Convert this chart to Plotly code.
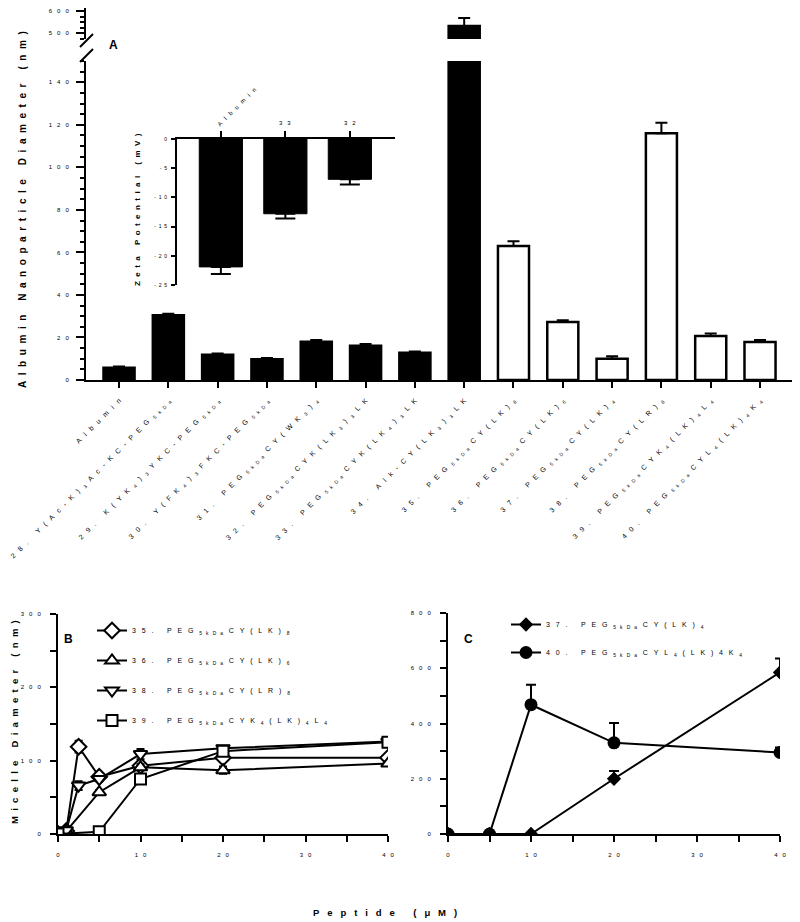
import plotly.graph_objects as go

FONT = "Liberation Sans, Arial, sans-serif"
NB = "\u00a0"
PAD = 8  # page body margin
W, H = 800 - PAD, 922 - PAD


def sp(s, gap=2):
    # letter-spaced text, "_{..}" marks a subscript run
    parts = []
    i = 0
    while i < len(s):
        if s.startswith("_{", i):
            j = s.index("}", i)
            parts.append("<sub>" + (NB * gap).join(s[i + 2:j]) + "</sub>")
            i = j + 1
        else:
            parts.append(NB if s[i] == " " else s[i])
            i += 1
    return (NB * gap).join(parts)


def fx(p):
    return min(1, max(0, (p - PAD) / W))


def fy(p):
    return min(1, max(0, 1 - (p - PAD) / H))


# ---- panel A: nanoparticle diameter ----
peptides = [
    "Albumin",
    "28. Y(Ac-K)_{3}Ac-KC-PEG_{5kDa}",
    "29. K(YK_{4})_{3}YKC-PEG_{5kDa}",
    "30. Y(FK_{4})_{3}FKC-PEG_{5kDa}",
    "31. PEG_{5kDa}CY(WK_{3})_{4}",
    "32. PEG_{5kDa}CYK(LK_{3})_{3}LK",
    "33. PEG_{5kDa}CYK(LK_{4})_{3}LK",
    "34. Alk-CY(LK_{3})_{3}LK",
    "35. PEG_{5kDa}CY(LK)_{8}",
    "36. PEG_{5kDa}CY(LK)_{6}",
    "37. PEG_{5kDa}CY(LK)_{4}",
    "38. PEG_{5kDa}CY(LR)_{8}",
    "39. PEG_{5kDa}CYK_{4}(LK)_{4}L_{4}",
    "40. PEG_{5kDa}CYL_{4}(LK)_{4}K_{4}",
]
diam = [5.8, 30.4, 11.9, 9.7, 18.0, 16.1, 12.8, 532, 63, 27.3, 10.0, 116, 20.7, 17.9]
diam_err = [0.6, 0.8, 0.6, 0.6, 0.8, 0.8, 0.6, 36, 2.3, 0.8, 1.2, 5, 1.2, 0.9]
solid = [True] * 8 + [False] * 6
a_low_ticks = [0, 20, 40, 60, 80, 100, 120, 140]
a_high_ticks = [500, 600]

# inset: zeta potential
zeta_labels = ["Albumin", "33", "32"]
zeta = [-21.9, -12.8, -6.9]
zeta_err = [1.2, 0.8, 0.9]
zeta_ticks = [0, -5, -10, -15, -20, -25]

# ---- panel B: micelle diameter ----
b_names = ["35. PEG_{5kDa}CY(LK)_{8}", "36. PEG_{5kDa}CY(LK)_{6}",
           "38. PEG_{5kDa}CY(LR)_{8}", "39. PEG_{5kDa}CYK_{4}(LK)_{4}L_{4}"]
b_x = [[0, 1, 2.5, 5, 10, 20, 40],
       [0, 1, 5, 10, 20, 40],
       [0, 1, 2.5, 5, 10, 20, 40],
       [0, 5, 10, 20, 40]]
b_y = [[0, 4, 119, 78, 93, 104, 104],
       [0, 4, 57, 91, 87, 96],
       [0, 5, 66, 75, 109, 117, 126],
       [0, 3, 75, 113, 125]]
b_err = [[0, 1, 8, 3, 4, 3, 3],
         [0, 1, 3, 4, 5, 3],
         [0, 1, 6, 3, 7, 3, 3],
         [0, 1, 4, 3, 3]]
b_symbols = ["diamond", "triangle-up", "triangle-down", "square"]
b_ticks = [0, 100, 200, 300]

# ---- panel C ----
c_names = ["37. PEG_{5kDa}CY(LK)_{4}", "40. PEG_{5kDa}CYL_{4}(LK)4K_{4}"]
c_x = [[0, 5, 10, 20, 40], [0, 5, 10, 20, 40]]
c_y = [[0, 0, 0, 200, 585], [0, 0, 468, 330, 295]]
c_err = [[0, 0, 0, 28, 50], [0, 0, 72, 72, 18]]
c_symbols = ["diamond", "circle"]
c_ticks = [0, 200, 400, 600, 800]

conc_ticks = [0, 5, 10, 15, 20, 25, 30, 35, 40]
conc_labels = ["0", "", "10", "", "20", "", "30", "", "40"]

fig = go.Figure()

cats = [sp(p, 3) for p in peptides]
bar_col = ["black" if s else "white" for s in solid]
for xa, ya in [("x", "y"), ("x2", "y2")]:
    fig.add_trace(go.Bar(
        x=cats, y=diam, xaxis=xa, yaxis=ya, width=0.63,
        marker=dict(color=bar_col, line=dict(color="black", width=2.5)),
        error_y=dict(type="data", array=diam_err, arrayminus=[0] * len(diam),
                     symmetric=False, color="black", thickness=2, width=6),
        showlegend=False))

fig.add_trace(go.Bar(
    x=zeta_labels, y=zeta, xaxis="x3", yaxis="y3", width=0.67,
    marker=dict(color="black", line=dict(color="black", width=1)),
    error_y=dict(type="data", array=[0] * 3, arrayminus=zeta_err, symmetric=False,
                 color="black", thickness=2, width=10),
    showlegend=False))

for i, name in enumerate(b_names):
    fig.add_trace(go.Scatter(
        x=b_x[i], y=b_y[i], xaxis="x4", yaxis="y4", mode="lines+markers",
        name=sp(name, 3), legend="legend", legendgroup=f"b{i}",
        line=dict(color="black", width=2),
        marker=dict(symbol=b_symbols[i], size=12 if i < 3 else 11, color="white",
                    line=dict(color="black", width=2)),
        error_y=dict(type="data", array=b_err[i], color="black", thickness=2, width=4)))

for i, name in enumerate(c_names):
    fig.add_trace(go.Scatter(
        x=c_x[i], y=c_y[i], xaxis="x5", yaxis="y5", mode="lines+markers",
        name=sp(name, 3), legend="legend2", legendgroup=f"c{i}",
        line=dict(color="black", width=2),
        marker=dict(symbol=c_symbols[i], size=11 if i == 0 else 13, color="black"),
        error_y=dict(type="data", array=c_err[i], arrayminus=[0] * len(c_err[i]),
                     symmetric=False, color="black", thickness=2, width=5)))

ax = dict(showline=True, linecolor="black", linewidth=2, ticks="outside",
          tickcolor="black", tickwidth=2, showgrid=False, zeroline=False,
          automargin=False, tickfont=dict(family=FONT, size=6, color="black"))
minor = dict(ticks="outside", tickcolor="black", tickwidth=2)

fig.update_layout(
    width=W, height=H, autosize=False,
    margin=dict(l=0, r=0, t=0, b=0),
    paper_bgcolor="white", plot_bgcolor="rgba(0,0,0,0)",
    font=dict(family=FONT, color="black"),
    barmode="overlay",
    xaxis=dict(ax, domain=[fx(86), fx(797)], anchor="y", type="category",
               range=[-0.67, 13.75], ticklen=6, tickangle=-45,
               ticklabelstandoff=6, tickfont=dict(family=FONT, size=7, color="black")),
    yaxis=dict(ax, domain=[fy(380), fy(61)], anchor="x", range=[0, 150],
               tickvals=a_low_ticks, ticktext=[sp(str(v), 3) for v in a_low_ticks],
               ticklen=8, ticklabelstandoff=6, minor=dict(minor, dtick=5, ticklen=4)),
    xaxis2=dict(domain=[fx(86), fx(797)], anchor="y2", type="category",
                range=[-0.67, 13.75], visible=False, automargin=False),
    yaxis2=dict(ax, domain=[fy(39), fy(8)], anchor="x2", range=[473, 614],
                tickvals=a_high_ticks, ticktext=[sp(str(v), 3) for v in a_high_ticks],
                ticklen=8, ticklabelstandoff=6, minor=dict(minor, dtick=25, ticklen=4)),
    xaxis3=dict(ax, domain=[fx(177), fx(395)], anchor="y3", side="top",
                type="category", range=[-0.68, 2.70], ticklen=6,
                showticklabels=False),
    yaxis3=dict(ax, domain=[fy(285), fy(139)], anchor="x3", range=[-25, 0],
                tickvals=zeta_ticks, ticktext=[sp(str(v), 2) for v in zeta_ticks],
                ticklen=4, ticklabelstandoff=3,
                tickfont=dict(family=FONT, size=5, color="black")),
    xaxis4=dict(ax, domain=[fx(58), fx(388)], anchor="y4", range=[0, 40],
                tickvals=conc_ticks, ticktext=[sp(t, 3) for t in conc_labels],
                ticklen=6, ticklabelstandoff=8),
    yaxis4=dict(ax, domain=[fy(834), fy(614)], anchor="x4", range=[0, 300],
                tickvals=b_ticks, ticktext=[sp(str(v), 3) for v in b_ticks],
                ticklen=6, ticklabelstandoff=8, minor=dict(minor, dtick=50, ticklen=6)),
    xaxis5=dict(ax, domain=[fx(448), fx(780)], anchor="y5", range=[0, 40],
                tickvals=conc_ticks, ticktext=[sp(t, 3) for t in conc_labels],
                ticklen=6, ticklabelstandoff=8),
    yaxis5=dict(ax, domain=[fy(834), fy(613)], anchor="x5", range=[0, 800],
                tickvals=c_ticks, ticktext=[sp(str(v), 3) for v in c_ticks],
                ticklen=6, ticklabelstandoff=8, minor=dict(minor, dtick=100, ticklen=6)),
    legend=dict(x=fx(92), y=fy(616), xanchor="left", yanchor="top",
                font=dict(family=FONT, size=7, color="black"),
                bgcolor="rgba(0,0,0,0)", traceorder="grouped", tracegroupgap=11),
    legend2=dict(x=fx(506), y=fy(610), xanchor="left", yanchor="top",
                 font=dict(family=FONT, size=7, color="black"),
                 bgcolor="rgba(0,0,0,0)", traceorder="grouped", tracegroupgap=9),
)

ann = [
    dict(text="<b>" + sp("Albumin Nanoparticle Diameter (nm)", 2) + "</b>",
         x=fx(22), y=fy(210), textangle=-90, font=dict(size=10)),
    dict(text="<b>" + sp("Zeta Potential (mV)", 2) + "</b>",
         x=fx(137), y=fy(210), textangle=-90, font=dict(size=8)),
    dict(text="<b>" + sp("Micelle Diameter (nm)", 2) + "</b>",
         x=fx(14), y=fy(722), textangle=-90, font=dict(size=9.5)),
    dict(text="<b>" + sp("Peptide (μM)", 3) + "</b>",
         x=fx(385), y=fy(912), font=dict(size=9.5)),
    dict(text="<b>A</b>", x=fx(113), y=fy(45), font=dict(size=12)),
    dict(text="<b>B</b>", x=fx(68), y=fy(639), font=dict(size=12)),
    dict(text="<b>C</b>", x=fx(468), y=fy(639), font=dict(size=12)),
]
for a in ann:
    a.update(xref="paper", yref="paper")

# inset category labels (category index on the inset axis)
ann.append(dict(text=sp(zeta_labels[0], 3), x=0, xref="x3", xshift=16,
                y=fy(107), yref="paper", textangle=-45, font=dict(size=6)))
for k, lab in enumerate(zeta_labels[1:], start=1):
    ann.append(dict(text=sp(lab, 3), x=k, xref="x3", y=fy(123), yref="paper",
                    font=dict(size=6)))
for a in ann:
    a.update(showarrow=False, xanchor="center", yanchor="middle")
    a["font"] = dict(a["font"], family=FONT, color="black")
fig.update_layout(annotations=ann)

# axis break marks on panel A
for y0 in (47, 62):
    fig.add_shape(type="line", xref="paper", yref="paper",
                  x0=fx(80), y0=fy(y0), x1=fx(93), y1=fy(y0 - 13),
                  line=dict(color="black", width=2))

fig.write_html("out.html")
